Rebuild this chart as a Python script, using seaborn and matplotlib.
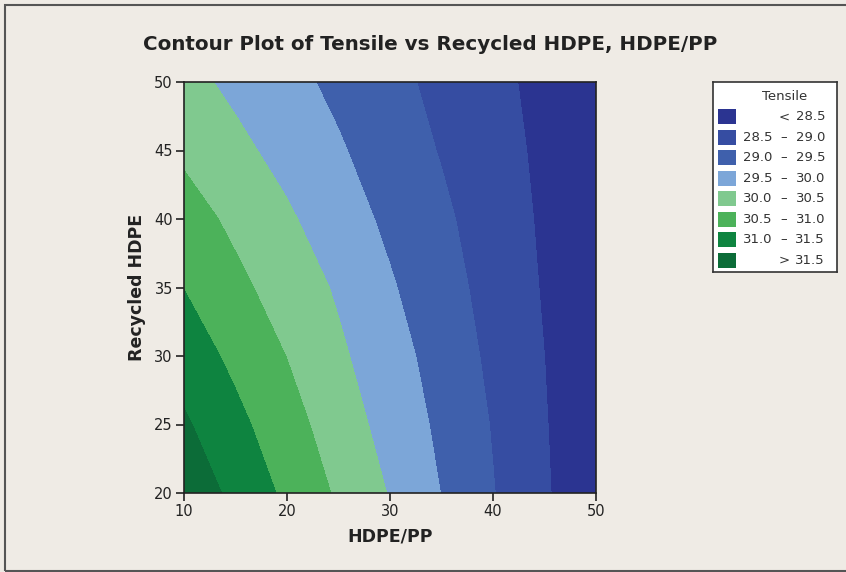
import matplotlib
matplotlib.use('Agg')
import matplotlib.pyplot as plt
import seaborn as sns
import numpy as np
import pandas as pd
from matplotlib.patches import Rectangle

# grid
hdpe_pp = [10, 15, 20, 25, 30, 35, 40, 45, 50]
recycled_hdpe = [20, 25, 30, 35, 40, 45, 50]
tensile_y20 = [31.85, 31.37, 30.90, 30.43, 29.97, 29.49, 29.02, 28.56, 28.09]
tensile_y25 = [31.57, 31.13, 30.70, 30.25, 29.82, 29.40, 28.97, 28.53, 28.10]
tensile_y30 = [31.28, 30.88, 30.49, 30.08, 29.71, 29.29, 28.90, 28.50, 28.10]
tensile_y35 = [30.99, 30.62, 30.28, 29.94, 29.55, 29.19, 28.83, 28.46, 28.10]
tensile_y40 = [30.72, 30.39, 30.07, 29.73, 29.40, 29.09, 28.76, 28.43, 28.10]
tensile_y45 = [30.41, 30.12, 29.84, 29.55, 29.26, 28.97, 28.69, 28.40, 28.11]
tensile_y50 = [30.15, 29.89, 29.64, 29.39, 29.13, 28.88, 28.62, 28.37, 28.11]

levels = [28.5, 29.0, 29.5, 30.0, 30.5, 31.0, 31.5]
band_colors = ['#2B3491', '#364DA2', '#3F60AC', '#7CA6D8',
               '#80C98F', '#4CB25A', '#0E8440', '#0C6C38']

rows = [tensile_y20, tensile_y25, tensile_y30, tensile_y35,
        tensile_y40, tensile_y45, tensile_y50]
df = pd.DataFrame(rows, index=recycled_hdpe, columns=hdpe_pp)

sns.set_theme(style='white')
plt.rcParams['font.family'] = ['DejaVu Sans']

W, H = 846, 572
bg = '#EFEBE5'
fig = plt.figure(figsize=(W / 100, H / 100), dpi=100, facecolor=bg)

# outer frame
fig.add_artist(Rectangle((4.5 / W, 1 - 571 / H), 900 / W, (571 - 4.5) / H,
                         transform=fig.transFigure, fill=False,
                         edgecolor='#555555', lw=1.5))

ax = fig.add_axes([184 / W, 1 - 493 / H, (596 - 184) / W, (493 - 82) / H])
X, Y = np.meshgrid(df.columns.values, df.index.values)
bounds = [20.0] + levels + [40.0]
ax.contourf(X, Y, df.values, levels=bounds, colors=band_colors)

ax.set_xlim(10, 50)
ax.set_ylim(20, 50)
ax.set_xticks([10, 20, 30, 40, 50])
ax.set_yticks([20, 25, 30, 35, 40, 45, 50])
ax.tick_params(direction='out', length=6, width=1.2, color='#222222',
               labelsize=10.5, labelcolor='#222222', left=True, bottom=True, pad=2)
for s in ax.spines.values():
    s.set_color('#222222')
    s.set_linewidth(1.2)
ax.set_xlabel('HDPE/PP', fontsize=12.5, fontweight='bold', color='#222222', labelpad=6)
ax.set_ylabel('Recycled HDPE', fontsize=12.5, fontweight='bold', color='#222222', labelpad=6)

fig.text(430 / W, 1 - 45 / H, 'Contour Plot of Tensile vs Recycled HDPE, HDPE/PP',
         ha='center', va='center', fontsize=14.3, fontweight='bold', color='#222222')

# legend box
lax = fig.add_axes([713 / W, 1 - 272 / H, (837 - 713) / W, (272 - 82) / H])
lax.set_xlim(0, 124)
lax.set_ylim(190, 0)
lax.set_xticks([])
lax.set_yticks([])
lax.set_facecolor('white')
for s in lax.spines.values():
    s.set_color('#333333')
    s.set_linewidth(1.2)
lax.text(72, 15, 'Tensile', ha='center', va='center', fontsize=9.5, color='#333333')
band_lo = ['', '28.5', '29.0', '29.5', '30.0', '30.5', '31.0', '']
band_hi = ['28.5', '29.0', '29.5', '30.0', '30.5', '31.0', '31.5', '31.5']
band_sym = ['<', '\u2013', '\u2013', '\u2013', '\u2013', '\u2013', '\u2013', '>']
for i, c in enumerate(band_colors):
    yc = 34.7 + i * 20.5
    lax.add_patch(Rectangle((5, yc - 7.5), 18, 15, facecolor=c, edgecolor='none'))
    lax.text(59, yc, band_lo[i], ha='right', va='center', fontsize=9.5, color='#333333')
    lax.text(71, yc, band_sym[i], ha='center', va='center', fontsize=9.5, color='#333333')
    lax.text(112, yc, band_hi[i], ha='right', va='center', fontsize=9.5, color='#333333')

fig.savefig('out.png', dpi=100, facecolor=bg)
